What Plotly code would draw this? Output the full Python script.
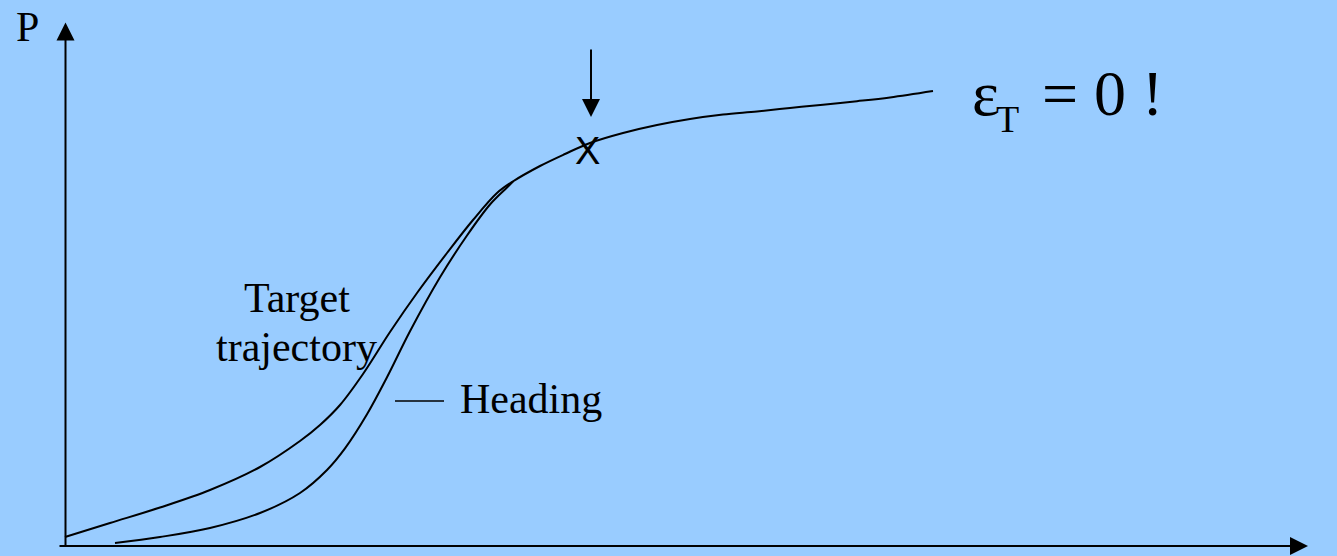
import plotly.graph_objects as go

# ---- data (t, P in chart units) ----
target_t = [0, 45, 95, 145, 195, 235, 255, 275, 298, 325, 352, 382, 408, 432, 447,
            475, 500, 525, 558, 592, 625, 658, 692, 725, 758, 792, 825, 868]
target_P = [9, 23, 38.5, 56, 79, 105, 121, 141, 172, 214, 253, 293, 326, 353, 364,
            380, 392, 403, 413, 421, 427, 431.5, 434.5, 438, 441.3, 444.8, 448.6, 455]

heading_t = [50, 95, 145, 195, 235, 262, 280, 302, 322, 345, 375, 402, 425, 442, 448]
heading_P = [3, 9, 18, 33, 53, 76, 97.6, 131.7, 168.7, 214.7, 268.7, 310.5, 341.5, 358.5, 364.5]

t_axis = [-7, 1243]      # horizontal axis extent
P_axis = [-2, 523.5]     # vertical axis extent
mark_t = 522             # marked point "X"
mark_P = 395
arrow_P = [498, 429]     # down arrow above the mark
leader_t = [330, 379]    # short dash before "Heading"
leader_P = 145

BG = "#99CCFF"
SERIF = "Liberation Serif, Times New Roman, serif"
SANS = "Liberation Sans, Arial, sans-serif"

fig = go.Figure()
line_style = dict(color="black", width=2, shape="spline", smoothing=1.0)
fig.add_trace(go.Scatter(x=target_t, y=target_P, mode="lines", line=line_style,
                         hoverinfo="skip", showlegend=False))
fig.add_trace(go.Scatter(x=heading_t, y=heading_P, mode="lines", line=line_style,
                         hoverinfo="skip", showlegend=False))
fig.add_trace(go.Scatter(x=leader_t, y=[leader_P, leader_P], mode="lines",
                         line=dict(color="black", width=1.5),
                         hoverinfo="skip", showlegend=False))

arrow = dict(showarrow=True, arrowhead=2, arrowsize=1.8, arrowwidth=2,
             arrowcolor="black", axref="x", ayref="y", xref="x", yref="y",
             text="", standoff=0)
# axes with arrows
fig.add_annotation(x=t_axis[1], y=0, ax=t_axis[0], ay=0, **arrow)
fig.add_annotation(x=0.5, y=P_axis[1], ax=0.5, ay=P_axis[0], **arrow)
# down arrow
fig.add_annotation(x=mark_t + 4, y=arrow_P[1], ax=mark_t + 4, ay=arrow_P[0], **arrow)

def label(text, x, y, size, family=SERIF, xanchor="center", yanchor="bottom"):
    fig.add_annotation(x=x, y=y, xref="x", yref="y", text=text, showarrow=False,
                       xanchor=xanchor, yanchor=yanchor,
                       font=dict(family=family, size=size, color="black"))

label("P", -38, 494, 42)
label("t", 1262, -17, 42)
label("Target", 232, 223, 42)
label("trajectory", 231, 174, 42)
label("Heading", 393, 122, 42, xanchor="left")
label("X", mark_t, mark_P, 38, family=SANS, yanchor="middle")
label("ε", 905, 415, 64, xanchor="left")
label("T", 929, 404, 38, xanchor="left")
label("= 0 !", 975, 415, 64, xanchor="left")

fig.update_layout(
    width=1337, height=556,
    margin=dict(l=0, r=0, t=0, b=0),
    paper_bgcolor=BG, plot_bgcolor=BG,
    xaxis=dict(range=[-65, 1272], visible=False, fixedrange=True),
    yaxis=dict(range=[-10, 546], visible=False, fixedrange=True),
    showlegend=False,
)
fig.write_html("out.html", config={"displayModeBar": False},
               post_script="document.body.style.margin='0';"
                           "document.body.style.overflow='hidden';"
                           "document.body.style.background='#99CCFF';")
